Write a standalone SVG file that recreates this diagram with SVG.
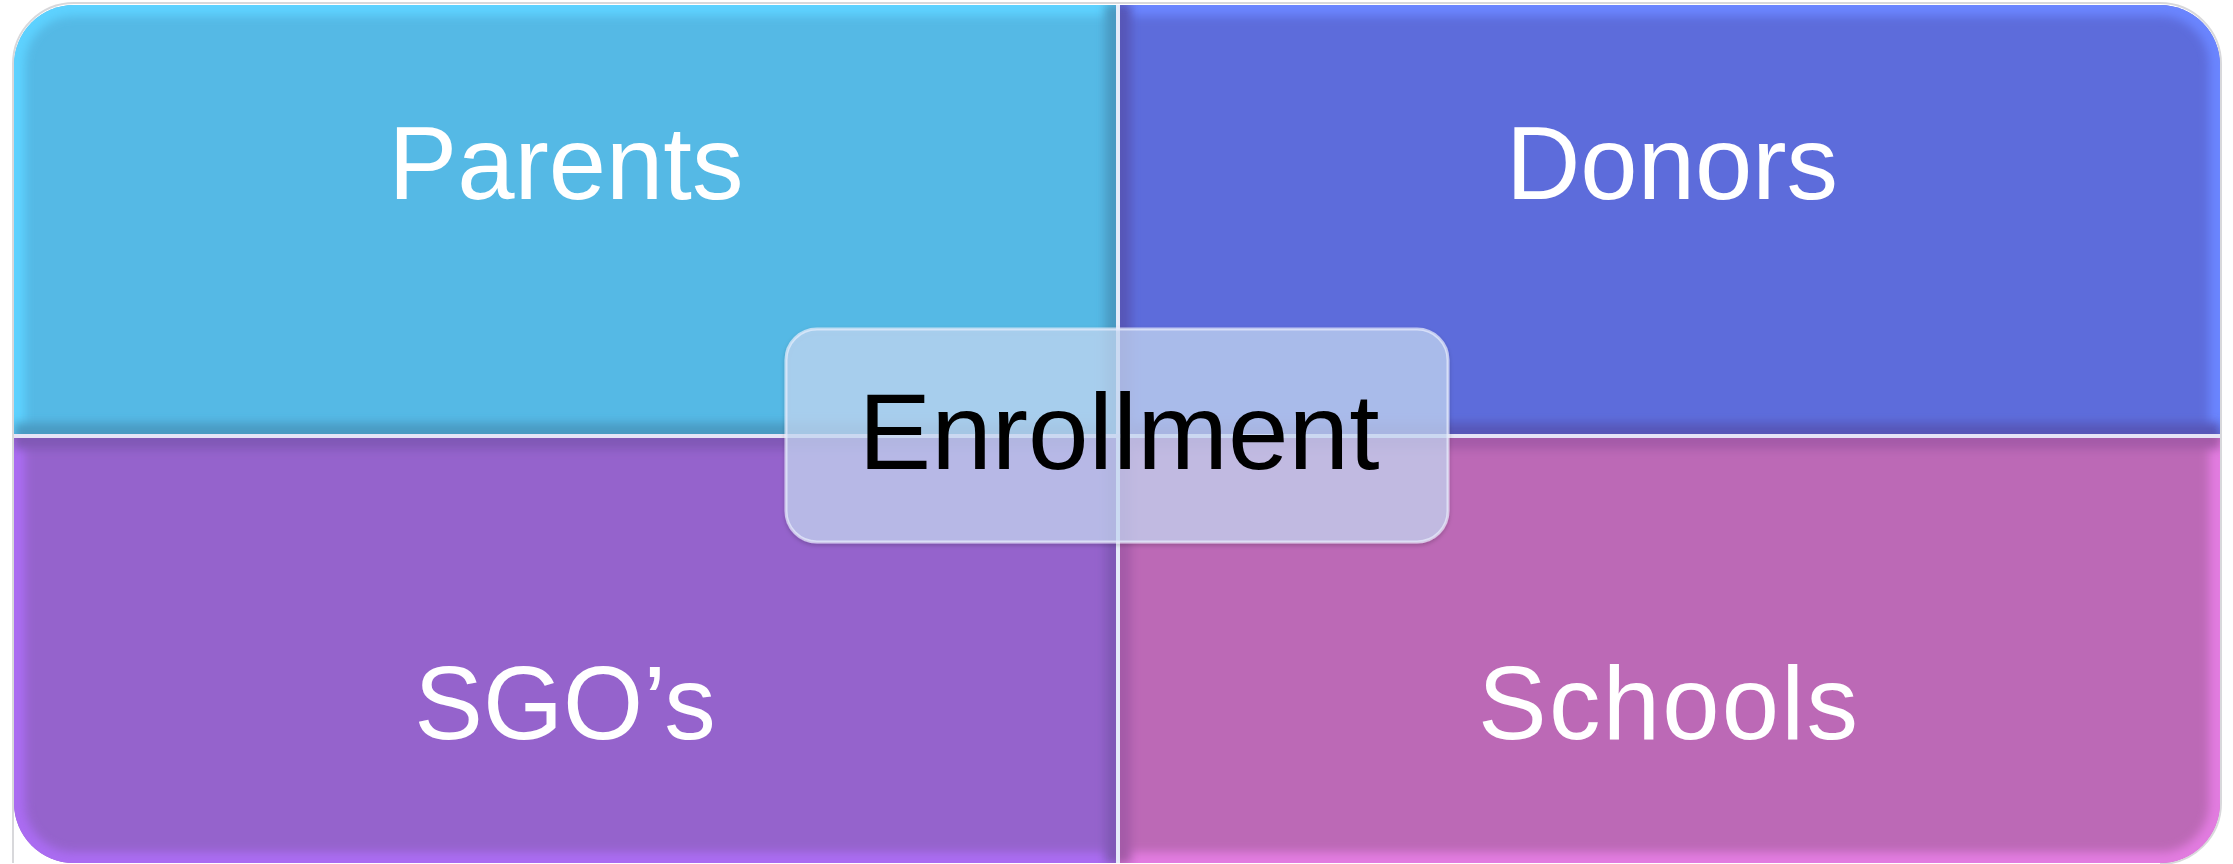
<svg xmlns="http://www.w3.org/2000/svg" width="2233" height="864" viewBox="0 0 2233 864">
<style>
.q-label{font-family:"Liberation Sans","Noto Sans",Arial,sans-serif;font-size:103px;fill:#FFFFFF;text-anchor:middle}
.c-label{font-family:"Liberation Sans","Noto Sans",Arial,sans-serif;font-size:108px;fill:#000000;text-anchor:middle}
.edge{fill:none;stroke-width:22;filter:url(#soft)}
</style>
<defs>
<filter id="soft" x="-5%" y="-5%" width="110%" height="110%"><feGaussianBlur stdDeviation="5"/></filter>
<filter id="shadow" x="-10%" y="-10%" width="120%" height="130%">
<feDropShadow dx="0" dy="2" stdDeviation="2" flood-color="#000" flood-opacity="0.25"/>
</filter>
<clipPath id="cTL"><path d="M14,434 L14,65 A60,60 0 0 1 74,5 L1116,5 L1116,434 Z"/></clipPath>
<clipPath id="cTR"><path d="M1120,5 L2160,5 A60,60 0 0 1 2220,65 L2220,434 L1120,434 Z"/></clipPath>
<clipPath id="cBL"><path d="M14,438 L1116,438 L1116,863 L74,863 A60,60 0 0 1 14,803 Z"/></clipPath>
<clipPath id="cBR"><path d="M1120,438 L2220,438 L2220,803 A60,60 0 0 1 2160,863 L1120,863 Z"/></clipPath>
</defs>
<rect x="0" y="0" width="2233" height="864" fill="#FFFFFF"/>
<path d="M13,863 L13,64 A61,61 0 0 1 74,3 L2160,3 A61,61 0 0 1 2221,64 L2221,803 A61,61 0 0 1 2160,864" fill="none" stroke="#C8C8CC" stroke-width="2" opacity="0.7"/>
<rect x="1116" y="5" width="4" height="858" fill="#E6ECFA"/>
<rect x="14" y="434" width="2206" height="4" fill="#E6E4F6"/>

<g id="node-parents">
<g clip-path="url(#cTL)">
<rect x="14" y="5" width="1102" height="429" fill="#55B9E5"/>
<path class="edge" d="M14,440 L14,65 A60,60 0 0 1 74,5 L1110,5" stroke="#5DD2FF"/>
<path class="edge" d="M1116,5 L1116,434 L14,434" stroke="#4A9AC2"/>
</g>
<text class="q-label" x="566" y="199">Parents</text>
</g>

<g id="node-donors">
<g clip-path="url(#cTR)">
<rect x="1120" y="5" width="1100" height="429" fill="#5D6CDB"/>
<path class="edge" d="M1126,5 L2160,5 A60,60 0 0 1 2220,65 L2220,434" stroke="#6A85FF"/>
<path class="edge" d="M1120,5 L1120,434 L2220,434" stroke="#5656B8"/>
</g>
<text class="q-label" x="1672" y="199">Donors</text>
</g>

<g id="node-sgos">
<g clip-path="url(#cBL)">
<rect x="14" y="438" width="1102" height="425" fill="#9563CC"/>
<path class="edge" d="M14,438 L14,803 A60,60 0 0 0 74,863 L1116,863" stroke="#AA6CF2"/>
<path class="edge" d="M14,438 L1116,438 L1116,863" stroke="#8059B6"/>
</g>
<text class="q-label" x="565" y="739">SGO’s</text>
</g>

<g id="node-schools">
<g clip-path="url(#cBR)">
<rect x="1120" y="438" width="1100" height="425" fill="#BC69B6"/>
<path class="edge" d="M1120,863 L2160,863 A60,60 0 0 0 2220,803 L2220,438" stroke="#E27CE0"/>
<path class="edge" d="M2220,438 L1120,438 L1120,863" stroke="#A45AA8"/>
</g>
<text class="q-label" x="1668" y="739" textLength="380" lengthAdjust="spacing">Schools</text>
</g>

<g id="connectors"></g>

<g id="node-enrollment">
<rect x="786" y="329" width="662" height="213" rx="31" ry="31" fill="#C9DCF7" fill-opacity="0.7" stroke="#E8EEFC" stroke-opacity="0.7" stroke-width="3" filter="url(#shadow)"/>
<text class="c-label" x="1119" y="469" textLength="521" lengthAdjust="spacingAndGlyphs">Enrollment</text>
</g>
</svg>
